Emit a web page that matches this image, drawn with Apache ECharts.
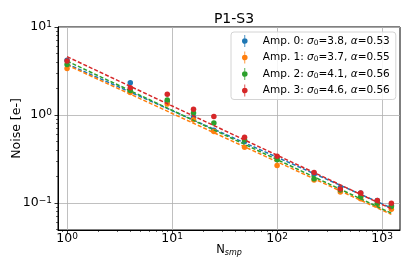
<!DOCTYPE html>
<html>
<head>
<meta charset="utf-8">
<script src="https://cdn.jsdelivr.net/npm/echarts@6/dist/echarts.min.js"></script>
<style>html,body{margin:0;padding:0;background:#fff}#c{width:411px;height:274px}</style>
</head>
<body>
<div id="c"></div>
<script>
// ---- data ----
const nSmp = [1, 4, 9, 16, 25, 49, 100, 225, 400, 625, 900, 1225];
const amp0 = [4.2, 2.32, 1.42, 0.94, 0.67, 0.50, 0.33, 0.215, 0.150, 0.130, 0.107, 0.094];
const amp1 = [3.38, 1.80, 1.33, 0.88, 0.65, 0.43, 0.267, 0.183, 0.133, 0.112, 0.094, 0.085];
const amp2 = [3.75, 1.90, 1.48, 1.05, 0.81, 0.52, 0.31, 0.188, 0.140, 0.118, 0.099, 0.091];
const amp3 = [4.10, 2.04, 1.72, 1.16, 0.96, 0.56, 0.34, 0.222, 0.144, 0.130, 0.107, 0.099];
const fitN = [1, 1225];
const fit0 = [3.8, 0.0877];
const fit1 = [3.7, 0.0741];
const fit2 = [4.1, 0.0765];
const fit3 = [4.6, 0.0858];
const legendNames = [
  'Amp. 0: σ0=3.8, α=0.53',
  'Amp. 1: σ0=3.7, α=0.55',
  'Amp. 2: σ0=4.1, α=0.56',
  'Amp. 3: σ0=4.6, α=0.56'
];
const xMajorTicks = [1, 10, 100, 1000];
const xMinorTicks = [0.9, 2, 3, 4, 5, 6, 7, 8, 9, 20, 30, 40, 50, 60, 70, 80, 90, 200, 300, 400, 500, 600, 700, 800, 900];
const yMajorTicks = [0.1, 1, 10];
const yMinorTicks = [0.05, 0.06, 0.07, 0.08, 0.09, 0.2, 0.3, 0.4, 0.5, 0.6, 0.7, 0.8, 0.9, 2, 3, 4, 5, 6, 7, 8, 9];

const colors = ['#1f77b4', '#ff7f0e', '#2ca02c', '#d62728'];
const ampData = [amp0, amp1, amp2, amp3];
const fitData = [fit0, fit1, fit2, fit3];
const FONT = 'DejaVu Sans';

function powLabel(v) {
  const e = Math.round(Math.log10(v));
  return '{b|10}{p|' + (e < 0 ? '\u2212' + (-e) : e) + '}';
}
const labelRich = {
  b: { fontFamily: FONT, fontSize: 12.5, color: '#000', lineHeight: 14 },
  p: { fontFamily: FONT, fontSize: 9, color: '#000', lineHeight: 14, verticalAlign: 'top', padding: [0, 0, 5, 0] }
};

const series = [];
for (let i = 0; i < 4; i++) {
  series.push({
    name: legendNames[i],
    type: 'scatter',
    xAxisIndex: 0, yAxisIndex: 0,
    symbol: 'circle',
    symbolSize: 5.5,
    itemStyle: { color: colors[i], opacity: 1 },
    data: nSmp.map((n, k) => [n, ampData[i][k]]),
    z: 3 + i * 2
  });
  series.push({
    type: 'line',
    xAxisIndex: 0, yAxisIndex: 0,
    showSymbol: false,
    symbol: 'none',
    lineStyle: { color: colors[i], width: 1.5, type: [4, 2] },
    data: fitN.map((n, k) => [n, fitData[i][k]]),
    z: 4 + i * 2,
    silent: true
  });
}

const errIcon = 'path://M2.6,0 H3.4 V12 H2.6 Z M3,3.2 A2.8,2.8 0 1,1 2.99,3.2 Z';

const chart = echarts.init(document.getElementById('c'), null, { renderer: 'canvas' });
chart.setOption({
  animation: false,
  backgroundColor: '#fff',
  title: {
    text: 'P1-S3',
    left: 229, top: 7, textAlign: 'center',
    textStyle: { fontFamily: FONT, fontSize: 14, fontWeight: 'normal', color: '#000' }
  },
  grid: {
    left: 58, right: 11, top: 27, bottom: 44,
    show: true, borderColor: '#000', borderWidth: 1, backgroundColor: 'transparent'
  },
  legend: {
    orient: 'vertical',
    left: 231, top: 32,
    data: legendNames.map((n, i) => ({ name: n, icon: errIcon, itemStyle: { color: colors[i] } })),
    itemWidth: 6, itemHeight: 12, itemGap: 4.5,
    padding: [3, 6, 3, 11],
    backgroundColor: 'rgba(255,255,255,0.85)',
    borderColor: '#d4d4d4', borderWidth: 1, borderRadius: 3,
    formatter: function (name) {
      const m = name.match(/^(Amp\. \d: )σ0(=[\d.]+, )α(=[\d.]+)$/);
      return '{n|' + m[1] + '}{i|σ}{s|0}{n|' + m[2] + '}{i|α}{n|' + m[3] + '}';
    },
    textStyle: {
      padding: [0, 0, 0, 10],
      rich: {
        n: { fontFamily: FONT, fontSize: 10.5, color: '#000' },
        i: { fontFamily: FONT, fontSize: 10.5, fontStyle: 'italic', color: '#000' },
        s: { fontFamily: FONT, fontSize: 7.5, color: '#000', verticalAlign: 'bottom', padding: [4, 0, 0, 0] }
      }
    }
  },
  xAxis: [{
    type: 'log', logBase: 10, min: 0.82, max: 1480, position: 'bottom',
    name: '{n|N}{s|smp}', nameLocation: 'middle', nameGap: 14, nameMoveOverlap: false,
    nameTextStyle: {
      rich: {
        n: { fontFamily: FONT, fontSize: 11.5, color: '#000' },
        s: { fontFamily: FONT, fontSize: 8, fontStyle: 'italic', color: '#000', verticalAlign: 'bottom', padding: [5, 0, 0, 0] }
      }
    },
    axisLine: { show: true, lineStyle: { color: '#000', width: 1 } },
    axisTick: { show: true, inside: false, length: 3.5, lineStyle: { color: '#000', width: 0.8 }, customValues: xMajorTicks },
    axisLabel: { show: true, margin: 2, customValues: xMajorTicks, formatter: powLabel, rich: labelRich },
    splitLine: { show: true, lineStyle: { color: '#b0b0b0', width: 0.8 } },
    minorTick: { show: false }
  }, {
    type: 'log', logBase: 10, min: 0.82, max: 1480, position: 'bottom',
    axisLine: { show: false },
    axisTick: { show: true, inside: false, length: 2, lineStyle: { color: '#000', width: 0.6 }, customValues: xMinorTicks },
    axisLabel: { show: false },
    splitLine: { show: false }
  }],
  yAxis: [{
    type: 'log', logBase: 10, min: 0.0493, max: 10, position: 'left',
    name: 'Noise [e-]', nameLocation: 'middle', nameGap: 35, nameRotate: 90, nameMoveOverlap: false,
    nameTextStyle: { fontFamily: FONT, fontSize: 12.5, color: '#000' },
    axisLine: { show: true, lineStyle: { color: '#000', width: 1 } },
    axisTick: { show: true, inside: false, length: 3.5, lineStyle: { color: '#000', width: 0.8 }, customValues: yMajorTicks },
    axisLabel: { show: true, margin: 6, customValues: yMajorTicks, formatter: powLabel, rich: labelRich },
    splitLine: { show: true, lineStyle: { color: '#b0b0b0', width: 0.8 } }
  }, {
    type: 'log', logBase: 10, min: 0.0493, max: 10, position: 'left',
    axisLine: { show: false },
    axisTick: { show: true, inside: false, length: 2, lineStyle: { color: '#000', width: 0.6 }, customValues: yMinorTicks },
    axisLabel: { show: false },
    splitLine: { show: false }
  }],
  series: series
});
</script>
</body>
</html>
